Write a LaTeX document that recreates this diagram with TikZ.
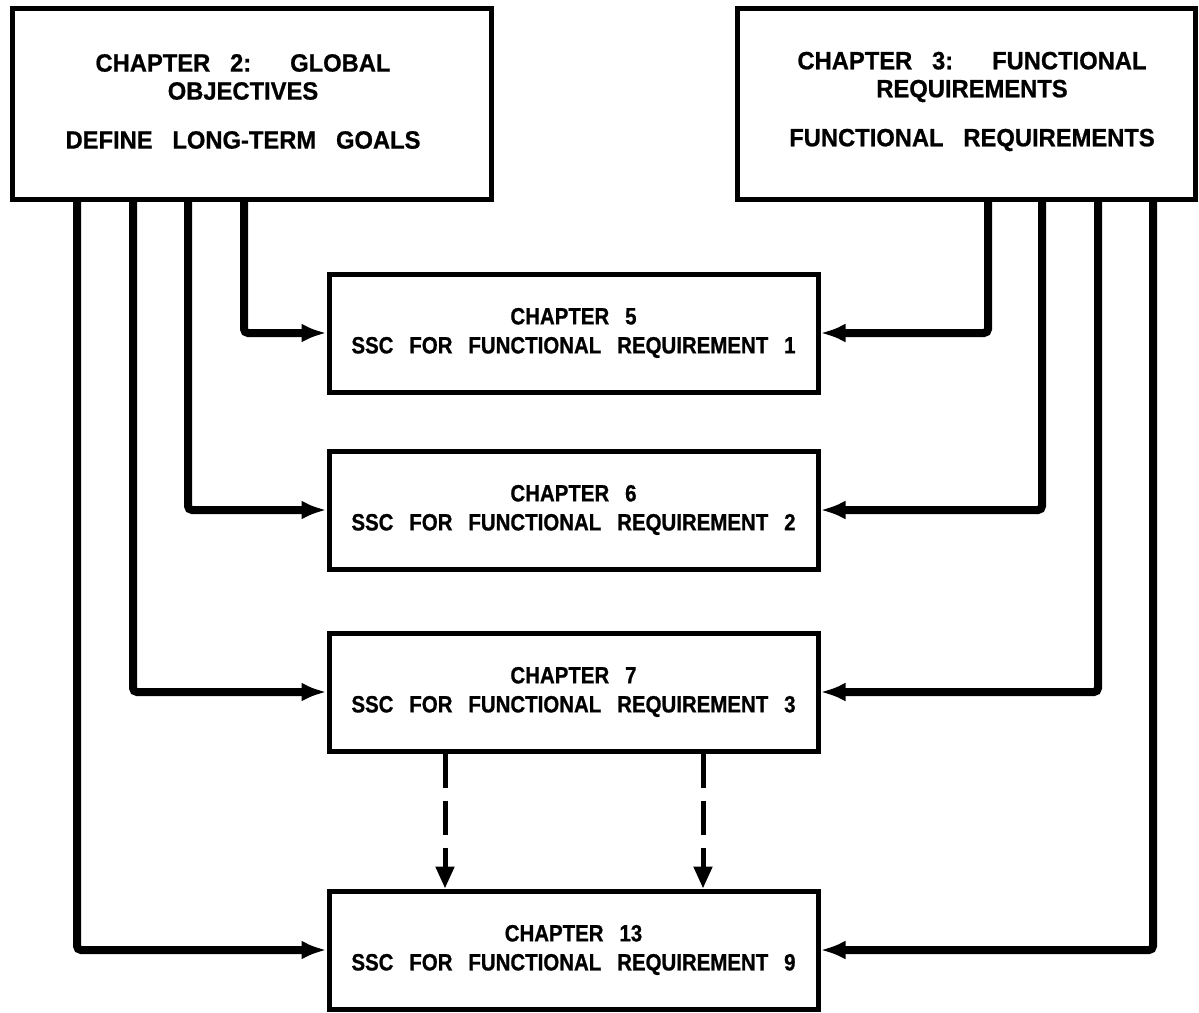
\documentclass[tikz,border=0pt]{standalone}
\usepackage{fontspec}
\setmainfont{Liberation Sans}
\newfontfamily\midfont{Liberation Sans}[FakeStretch=0.87,WordSpace=2.8,FakeBold=0.8]
\newfontfamily\topfont{Liberation Sans}[FakeStretch=0.95,WordSpace=3,FakeBold=0.8]
\usetikzlibrary{arrows.meta}
\begin{document}
\begin{tikzpicture}[x=1pt,y=-1pt,
  box/.style={draw, line width=5pt, inner sep=0pt, align=center},
  midbox/.style={box, minimum width=489pt, minimum height=118pt,
    font=\midfont\bfseries\fontsize{23.5}{29}\selectfont},
  topbox/.style={box, minimum height=191pt},
  toptext/.style={inner sep=0pt, align=center,
    font=\topfont\bfseries\fontsize{25}{28}\selectfont},
  conn/.style={line width=8pt, rounded corners=4pt, -{Latex[length=25pt,width=19pt]}},
  dashconn/.style={line width=5pt, dash pattern=on 34pt off 13pt, -{Triangle[length=22pt,width=18pt]}}]
\useasboundingbox (0,0) rectangle (1199,1012);

\node[topbox, minimum width=479pt] (g) at (252,103.5) {};
\node[toptext] (gt) at ([xshift=-9pt,yshift=2pt]g.center)
  {CHAPTER 2:\hspace{17pt} GLOBAL\\OBJECTIVES\\[21pt]DEFINE LONG-TERM GOALS};
\node[topbox, minimum width=458pt] (f) at (966,103.5) {};
\node[toptext] (ft) at ([xshift=6pt,yshift=2pt]f.center)
  {CHAPTER 3:\hspace{17pt} FUNCTIONAL\\REQUIREMENTS\\[21pt]FUNCTIONAL REQUIREMENTS};

\node[midbox] (c5) at (573.5,333) {CHAPTER 5\\SSC FOR FUNCTIONAL REQUIREMENT 1};
\node[midbox] (c6) at (573.5,510) {CHAPTER 6\\SSC FOR FUNCTIONAL REQUIREMENT 2};
\node[midbox] (c7) at (573.5,692) {CHAPTER 7\\SSC FOR FUNCTIONAL REQUIREMENT 3};
\node[midbox] (c13) at (573.5,950) {CHAPTER 13\\SSC FOR FUNCTIONAL REQUIREMENT 9};

\coordinate (l1) at (244,0);
\coordinate (l2) at (188,0);
\coordinate (l3) at (133,0);
\coordinate (l4) at (77,0);
\coordinate (r1) at (988,0);
\coordinate (r2) at (1042,0);
\coordinate (r3) at (1098,0);
\coordinate (r4) at (1153,0);
\coordinate (d1) at (445,0);
\coordinate (d2) at (703,0);

\draw[conn] (g.south -| l1) |- (c5.west);
\draw[conn] (g.south -| l2) |- (c6.west);
\draw[conn] (g.south -| l3) |- (c7.west);
\draw[conn] (g.south -| l4) |- (c13.west);
\draw[conn] (f.south -| r1) |- (c5.east);
\draw[conn] (f.south -| r2) |- (c6.east);
\draw[conn] (f.south -| r3) |- (c7.east);
\draw[conn] (f.south -| r4) |- (c13.east);

\draw[dashconn] (c7.south -| d1) -- (c13.north -| d1);
\draw[dashconn] (c7.south -| d2) -- (c13.north -| d2);
\end{tikzpicture}
\end{document}
